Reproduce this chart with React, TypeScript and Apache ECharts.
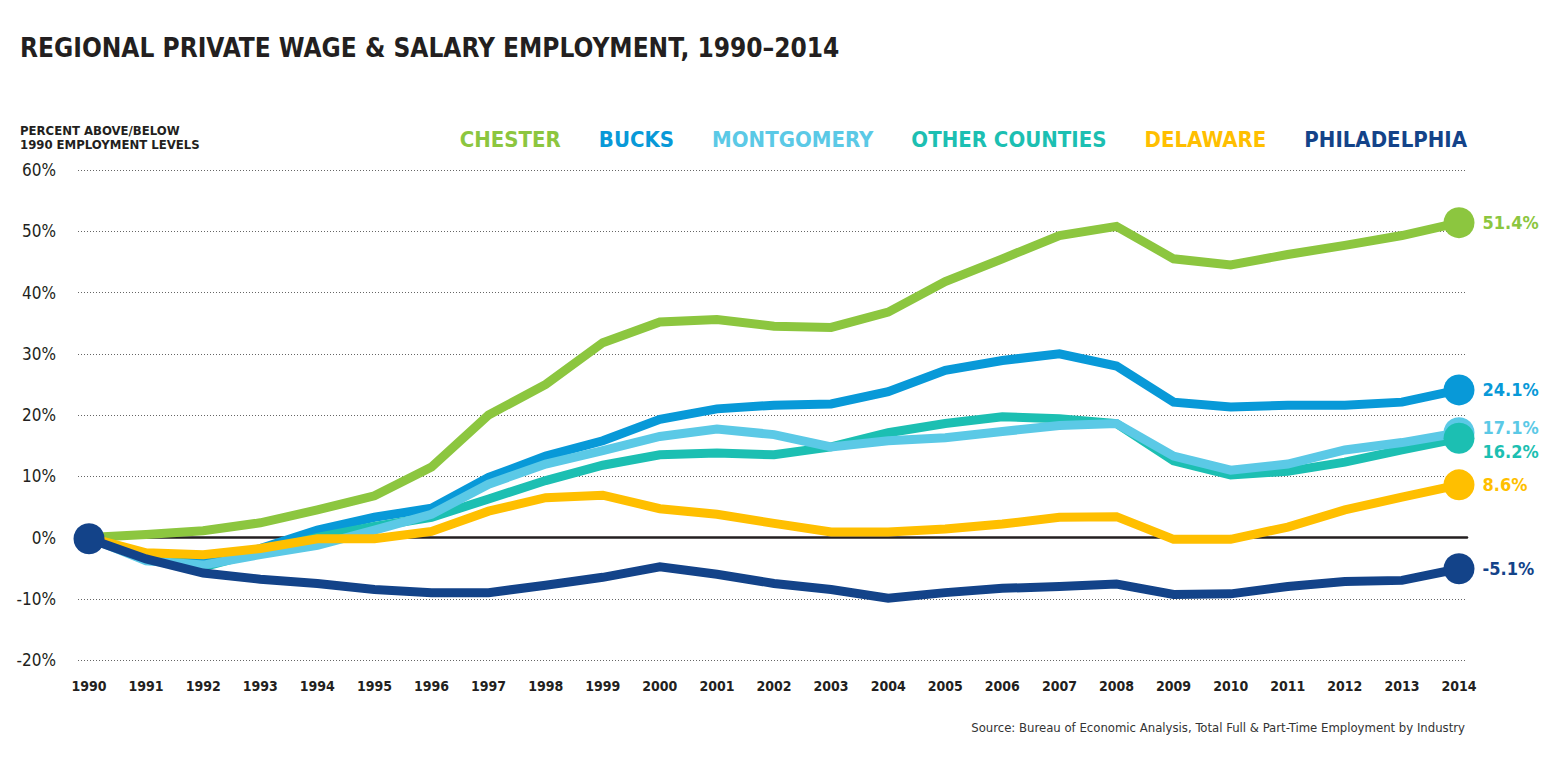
import React, { useEffect, useRef } from "react";
import * as echarts from "echarts";

const years = [1990,1991,1992,1993,1994,1995,1996,1997,1998,1999,2000,2001,2002,2003,2004,2005,2006,2007,2008,2009,2010,2011,2012,2013,2014];

const chester = [0,0.5,1.1,2.4,4.5,6.8,11.5,20.0,25.0,31.8,35.2,35.6,34.5,34.3,36.8,41.8,45.5,49.3,50.8,45.5,44.5,46.2,47.7,49.3,51.4];
const bucks = [0,-3.0,-4.0,-1.8,1.2,3.3,4.8,9.8,13.3,15.8,19.3,21.0,21.6,21.8,23.8,27.3,28.9,30.0,28.0,22.1,21.3,21.6,21.6,22.1,24.1];
const montgomery = [0,-3.8,-4.5,-2.8,-1.3,1.2,3.8,8.7,12.0,14.2,16.5,17.7,16.8,14.8,15.8,16.3,17.3,18.3,18.6,13.3,11.0,12.0,14.3,15.5,17.1];
const otherCounties = [0,-3.0,-4.8,-2.3,0,1.8,3.3,6.3,9.3,11.8,13.5,13.8,13.5,14.8,17.1,18.6,19.7,19.4,18.6,12.5,10.2,10.8,12.3,14.3,16.2];
const delaware = [0,-2.5,-2.8,-1.8,-0.2,-0.2,1.0,4.3,6.5,6.9,4.7,3.8,2.3,0.9,0.9,1.4,2.2,3.3,3.4,-0.3,-0.3,1.7,4.5,6.6,8.6];
const philadelphia = [-0.2,-3.5,-5.8,-6.8,-7.5,-8.5,-9.0,-9.0,-7.8,-6.5,-4.8,-6.0,-7.5,-8.5,-9.9,-9.0,-8.3,-8.0,-7.6,-9.3,-9.2,-8.0,-7.2,-7.0,-5.1];

const seriesNames = ["CHESTER", "BUCKS", "MONTGOMERY", "OTHER COUNTIES", "DELAWARE", "PHILADELPHIA"];
const seriesColors = ["#8cc63f", "#0899d8", "#5bc9e6", "#1cbfb2", "#ffbf00", "#134389"];
const seriesData = [chester, bucks, montgomery, otherCounties, delaware, philadelphia];
const labelOffsetsY = [0, 0, -5, 13, 0, 0];
// draw order: Chester, Bucks, Other Counties, Montgomery, Delaware, Philadelphia
const lineOrder = [0, 1, 3, 2, 4, 5];
const dotOrder = [0, 1, 2, 3, 4, 5];

const yTicks = { min: -20, max: 60, interval: 10 };

const NARROW = '"Liberation Sans Narrow", "DejaVu Sans Condensed", "Arial Narrow", sans-serif';

export default function App() {
  const ref = useRef<HTMLDivElement>(null);
  useEffect(() => {
    if (!ref.current) return;
    const chart = echarts.init(ref.current, null, { renderer: "svg" });

    const lineSeries = lineOrder.map((i) => ({
      name: seriesNames[i],
      type: "line",
      data: seriesData[i].map((v, k) => [years[k], v]),
      symbol: "none",
      lineStyle: { width: 9, color: seriesColors[i], cap: "butt", join: "miter" },
      itemStyle: { color: seriesColors[i] },
      z: 2,
    }));

    const last = years.length - 1;
    const dots: any[] = dotOrder.map((i) => ({
      value: [years[last], seriesData[i][last]],
      itemStyle: { color: seriesColors[i], opacity: 1 },
      label: {
        show: true,
        position: "right",
        distance: 8,
        offset: [0, labelOffsetsY[i]],
        formatter: seriesData[i][last].toFixed(1) + "%",
        color: seriesColors[i],
        fontSize: 18,
        fontWeight: "bold",
        fontFamily: NARROW,
      },
    }));
    dots.push({
      value: [years[0], philadelphia[0]],
      itemStyle: { color: seriesColors[5], opacity: 1 },
      label: { show: false },
    });

    chart.setOption({
      animation: false,
      backgroundColor: "#ffffff",
      title: [
        {
          text: "REGIONAL PRIVATE WAGE & SALARY EMPLOYMENT, 1990\u20132014",
          left: 15,
          top: 30,
          textStyle: { fontFamily: NARROW, fontSize: 26, fontWeight: "bold", color: "#231f20" },
        },
        {
          text: "PERCENT ABOVE/BELOW\n1990 EMPLOYMENT LEVELS",
          left: 15,
          top: 118,
          textStyle: { fontFamily: NARROW, fontSize: 13, fontWeight: "bold", color: "#231f20", lineHeight: 14 },
        },
        {
          text: "Source: Bureau of Economic Analysis, Total Full & Part-Time Employment by Industry",
          right: 88,
          top: 716,
          textStyle: { fontFamily: NARROW, fontSize: 13, fontWeight: "normal", color: "#333333" },
        },
      ],
      legend: {
        right: 86,
        top: 120,
        icon: "none",
        itemWidth: 0,
        itemHeight: 28,
        itemGap: 33,
        selectedMode: false,
        data: seriesNames.map((n, i) => ({
          name: n,
          textStyle: { color: seriesColors[i], fontSize: 22, fontWeight: "bold", fontFamily: NARROW },
        })),
      },
      grid: { left: 78, right: 91, top: 170, bottom: 118, containLabel: false },
      xAxis: {
        type: "value",
        min: 1989.807,
        max: 2014.14,
        axisLine: { show: true, onZero: true, lineStyle: { color: "#231f20", width: 2.5 } },
        axisTick: { show: false },
        splitLine: { show: false },
        axisLabel: {
          customValues: years,
          formatter: (v: number) => String(Math.round(v)),
          margin: 19,
          fontFamily: NARROW,
          fontSize: 14,
          fontWeight: "bold",
          color: "#231f20",
        },
      },
      yAxis: {
        type: "value",
        min: yTicks.min,
        max: yTicks.max,
        interval: yTicks.interval,
        axisLine: { show: false },
        axisTick: { show: false },
        axisLabel: {
          formatter: "{value}%",
          margin: 22,
          fontFamily: NARROW,
          fontSize: 17,
          color: "#231f20",
        },
        splitLine: { show: true, lineStyle: { type: [1, 2], color: "#666666", width: 1 } },
      },
      series: [
        ...lineSeries,
        {
          name: "endpoints",
          type: "scatter",
          symbol: "circle",
          symbolSize: 31,
          data: dots,
          itemStyle: { opacity: 1 },
          z: 5,
        },
      ],
    });
    return () => chart.dispose();
  }, []);
  return <div ref={ref} style={{ position: "fixed", left: 0, top: 0, width: 1558, height: 778 }} />;
}
